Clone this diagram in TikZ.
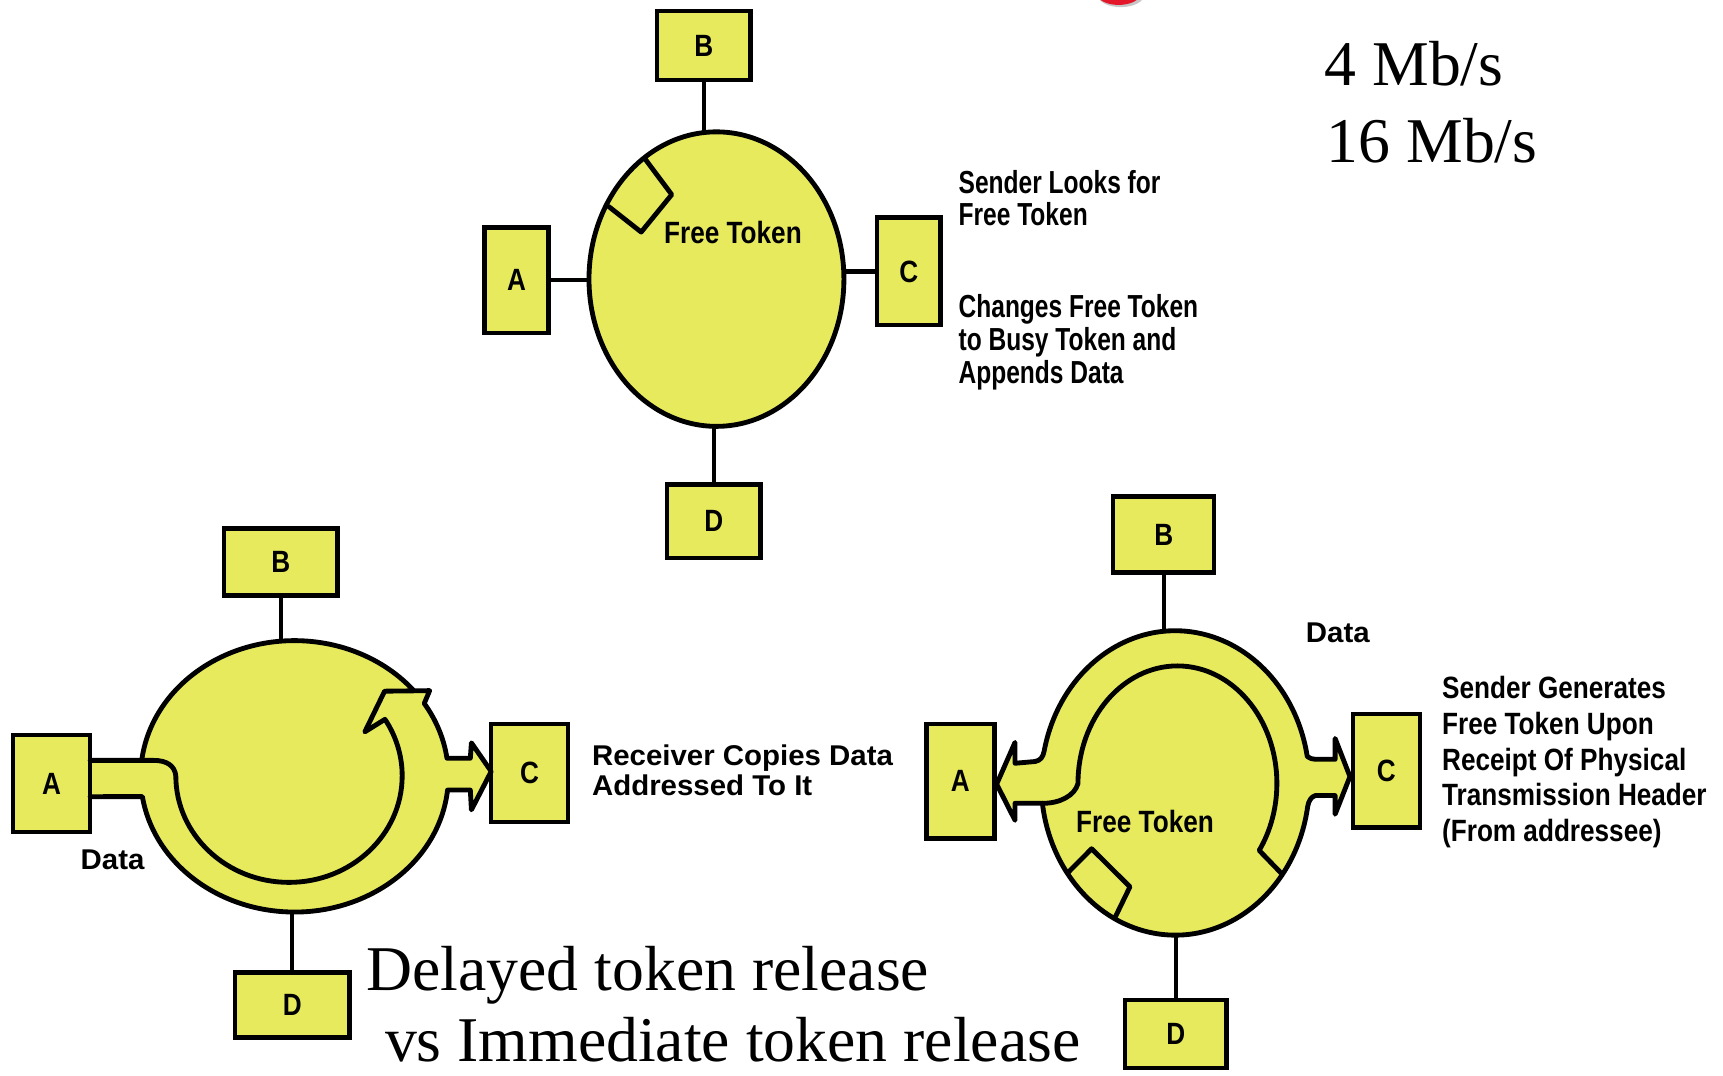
\documentclass[tikz,border=0pt]{standalone}
\usepackage{fontspec}
\setmainfont{Liberation Serif}
\newfontfamily\lblA[FakeStretch=0.77]{Liberation Sans}
\newfontfamily\lblB[FakeStretch=0.85]{Liberation Sans}
\newfontfamily\lblC[FakeStretch=1.03]{Liberation Sans}
\usetikzlibrary{shapes.geometric}
\definecolor{ringyellow}{RGB}{232,234,94}
\definecolor{logored}{RGB}{228,22,42}
\begin{document}
\begin{tikzpicture}[x=0.5pt,y=-0.5pt,
  box/.style={draw,line width=2pt,fill=ringyellow,inner sep=0pt,font=\lblB\bfseries\fontsize{14}{14}\selectfont},
  link/.style={line width=2pt},
  rim/.style={line width=2.2pt,line join=round,line cap=round},
  ring/.style={ellipse,inner sep=0pt,outer sep=0pt,fill=ringyellow},
  note/.style={inner sep=0pt,anchor=base west,align=left},
  big/.style={inner sep=0pt,anchor=base west,font=\fontsize{29}{35}\selectfont},
  tok/.style={inner sep=0pt,anchor=base,font=\lblB\bfseries\fontsize{14}{14}\selectfont}
]
\path[use as bounding box] (0,0) rectangle (1568,979);
\clip (0,0) rectangle (1568,979);

% red fragment at top edge
\fill[black!22] (1020,-4.5) ellipse[x radius=21, y radius=11];
\fill[logored] (1018,-6) ellipse[x radius=20, y radius=10.5];

% ================= top diagram =================
\node[ring,draw,line width=2.2pt,minimum width=116pt,minimum height=134pt] (ringT) at (652,254) {};
\node[box,minimum width=42.5pt,minimum height=31.5pt] (tB) at (640.5,41.5) {B};
\node[box,minimum width=29pt,minimum height=48pt] (tA) at (470,255) {A};
\node[box,minimum width=29pt,minimum height=49pt] (tC) at (827,247) {C};
\node[box,minimum width=42.5pt,minimum height=33.5pt] (tD) at (649.5,474.5) {D};
\draw[link] (tB.south) -- (tB.south |- ringT.north);
\draw[link] (tA.east) -- (tA.east -| ringT.west);
\draw[link] (tC.west) -- (tC.west -| ringT.east);
\draw[link] (tD.north) -- (tD.north |- ringT.south);
\draw[rim] (587,144.6) -- (611.3,177.1) -- (583.5,211.2) -- (554,188);
\node[tok] (ftT) at (667,222) {Free Token};
\node[note,font=\lblA\bfseries\fontsize{14.5}{14.6}\selectfont] (n1) at (872,205) {Sender Looks for\\Free Token};
\node[note,font=\lblA\bfseries\fontsize{14.5}{15}\selectfont] (n2) at (872,349) {Changes Free Token\\to Busy Token and\\Appends Data};

% rates
\node[big] (rate1) at (1205,78) {4 Mb/s};
\node[big] (rate2) at (1207,148) {16 Mb/s};

% ================= bottom-left diagram =================
\node[ring,minimum width=140pt,minimum height=123.5pt] (ringL) at (268,706.5) {};
\fill[ringyellow] (80,692) rectangle (140,725);
\fill[ringyellow] (400,690) -- (428,690) -- (429,676) -- (447,702) -- (429,737) -- (428,719) -- (400,719) -- cycle;
\fill[ringyellow] (340,660) -- (332,666) -- (350,629) -- (391,628.5) -- (385,640) -- (360,660) -- cycle;
\node[box,minimum width=51.5pt,minimum height=30.5pt] (bB) at (255.5,511.5) {B};
\node[box,minimum width=35pt,minimum height=44pt] (bA) at (47,713) {A};
\node[box,minimum width=35pt,minimum height=44.5pt] (bC) at (482,703.5) {C};
\node[box,minimum width=52pt,minimum height=29.5pt] (bD) at (266,914.5) {D};
\draw[link] (bB.south) -- (bB.south |- ringL.north);
\draw[link] (bD.north) -- (bD.north |- ringL.south);
\draw[rim] (82,692) -- (140,692) .. controls (152,692) and (159,697) .. (160,706)
  arc[start angle=180, end angle=-32, x radius=103, y radius=97]
  -- (332,666) -- (350,629) -- (391,628.5)
  -- ([shift={(268,706.5)}]327.5:140 and 123.5)
  arc[start angle=327.5, end angle=352.3, x radius=140, y radius=123.5]
  -- (428,690) -- (429,676) -- (447,702) -- (429,737) -- (428,719)
  -- ([shift={(268,706.5)}]5.8:140 and 123.5)
  arc[start angle=5.8, end angle=171.4, x radius=140, y radius=123.5]
  -- (82,725);
\draw[rim] ([shift={(268,706.5)}]186.74:140 and 123.5)
  arc[start angle=186.74, end angle=320.5, x radius=140, y radius=123.5];
\node[note,font=\lblC\bfseries\fontsize{13}{13}\selectfont] (dataL) at (73,791) {Data};
\node[note,font=\lblC\bfseries\fontsize{13}{13.5}\selectfont] (n3) at (538.4,724) {Receiver Copies Data\\Addressed To It};

% ================= bottom-right diagram =================
\node[ring,minimum width=122pt,minimum height=138.5pt] (ringR) at (1069.5,712.5) {};
\fill[ringyellow] (955,684) -- (942,693) -- (923.7,694.6) -- (923.7,675.6) -- (907,713.6) -- (923.7,746.5) -- (923.7,731) -- (955,731) -- cycle;
\fill[ringyellow] (1185,688) -- (1197,691) -- (1215,691) -- (1215,672) -- (1228.5,706.7) -- (1215,741) -- (1215,724) -- (1197,724) -- (1185,734) -- cycle;
\node[box,minimum width=46pt,minimum height=34.5pt] (rB) at (1059,486.5) {B};
\node[box,minimum width=31pt,minimum height=52pt] (rA) at (874,711) {A};
\node[box,minimum width=30.5pt,minimum height=51.5pt] (rC) at (1261.5,701.5) {C};
\node[box,minimum width=46pt,minimum height=31pt] (rD) at (1070,941) {D};
\draw[link] (rB.south) -- (rB.south |- ringR.north);
\draw[link] (rD.north) -- (rD.north |- ringR.south);
\draw[rim] (923.7,731) -- (923.7,746.5) -- (907,713.6) -- (923.7,675.6) -- (923.7,694.6) -- (942,693)
  .. controls (947,692) and (949,689) .. ([shift={(1069.5,712.5)}]191.9:122 and 138.5)
  arc[start angle=191.9, end angle=350, x radius=122, y radius=138.5]
  .. controls (1192,690) and (1194,691) .. (1197,691)
  -- (1215,691) -- (1215,672) -- (1228.5,706.7) -- (1215,741) -- (1215,724) -- (1197,724)
  .. controls (1193,725) and (1191,729) .. ([shift={(1069.5,712.5)}]8.9:122 and 138.5)
  arc[start angle=8.9, end angle=172.3, x radius=122, y radius=138.5]
  -- (923.7,731);
\draw[rim] (948.6,731.1) .. controls (965,731) and (978,724) .. (981,713)
  arc[start angle=180, end angle=394.7, x radius=90.5, y radius=107]
  -- (1166.3,795);
\draw[rim] (972,794) -- (993.4,772.4) -- (1028.3,807) -- (1014.7,835);
\node[tok] (ftR) at (1042,758) {Free Token};
\node[note,font=\lblC\bfseries\fontsize{13}{13}\selectfont] (dataR) at (1188,585) {Data};
\node[note,font=\lblB\bfseries\fontsize{14}{16.3}\selectfont] (n4) at (1312,766) {Sender Generates\\Free Token Upon\\Receipt Of Physical\\Transmission Header\\(From addressee)};

% captions
\node[big] (cap1) at (333,901) {Delayed token release};
\node[big] (cap2) at (350,966) {vs Immediate token release};
\end{tikzpicture}
\end{document}
